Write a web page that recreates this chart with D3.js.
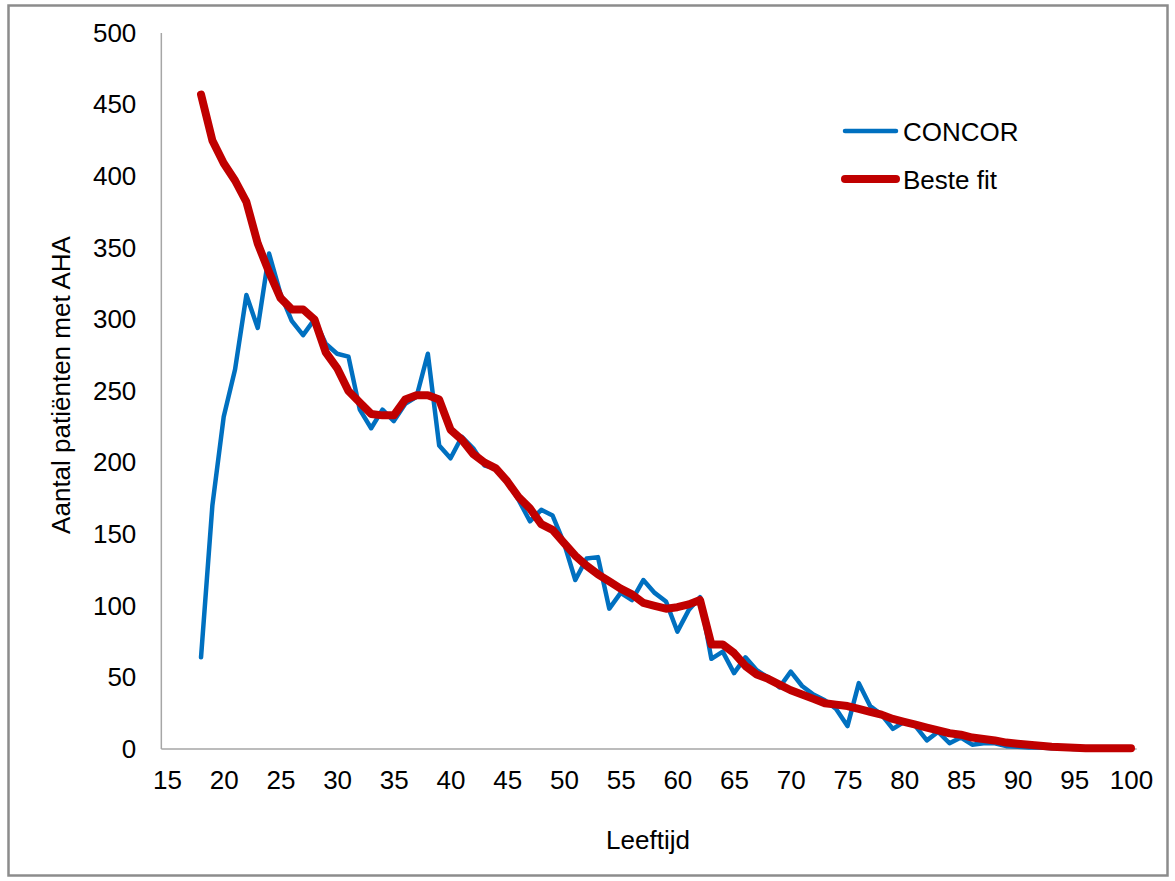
<!DOCTYPE html>
<html>
<head>
<meta charset="utf-8">
<script src="https://cdn.jsdelivr.net/npm/d3@7"></script>
<style>
  body { margin: 0; background: #fff; }
  svg { display: block; font-family: "Liberation Sans", Arial, sans-serif; }
</style>
</head>
<body>
<div id="chart"></div>
<script>
// leeftijd 18..100
var ages = d3.range(18, 101);

var concor = [64, 170, 232, 265, 317, 294, 346, 318, 299, 289,
              300, 283, 276, 274, 237, 224, 237, 229, 241, 246,
              276, 212, 203, 218, 210, 198, 196, 187, 174, 159,
              167, 163, 144, 118, 133, 134, 98, 109, 104, 118,
              109, 103, 82, 97, 106, 63, 68, 53, 64, 55,
              50, 43, 54, 44, 38, 34, 28, 16, 46, 30,
              24, 14, 19, 16, 6, 12, 4, 8, 3, 4,
              4, 2, 1.5, 1, 1, 0.5, 0.5, 0, 0, 0,
              0, 0, 0];

var besteFit = [457, 425, 409, 397, 382, 353, 333, 315, 307, 307,
                300, 277, 266, 250, 242, 234, 233, 233, 244, 247,
                247, 244, 223, 216, 206, 200, 196, 187, 176, 168,
                157, 153, 144, 135, 128, 122, 117, 112, 108, 102,
                100, 98, 99, 101, 104, 73, 73, 67, 58, 52,
                49, 45, 41, 38, 35, 32, 31, 30, 28, 26,
                24, 21, 19, 17, 15, 13, 11, 10, 8, 7,
                6, 4.5, 3.7, 3, 2.3, 1.6, 1.2, 0.8, 0.5, 0.5,
                0.5, 0.5, 0.5];

var xTicks = d3.range(15, 101, 5);
var yTicks = d3.range(0, 501, 50);

var series = [
  {name: "CONCOR", values: concor, color: "#0070c0", width: 4.5},
  {name: "Beste fit", values: besteFit, color: "#c00000", width: 8}
];

var W = 1175, H = 881;
var fs = "26px";

var x = d3.scaleLinear().domain([15, 100]).range([167, 1131]);
var y = d3.scaleLinear().domain([0, 500]).range([749, 33]);

var svg = d3.select("#chart").append("svg")
    .attr("width", W)
    .attr("height", H);

// kader
svg.append("rect")
  .attr("x", 8.5).attr("y", 5.5)
  .attr("width", 1159).attr("height", 870)
  .attr("fill", "#fff")
  .attr("stroke", "#8c8c8c")
  .attr("stroke-width", 2.5);

var xAxis = d3.axisBottom(x).tickValues(xTicks).tickSize(0).tickPadding(22);
var yAxis = d3.axisLeft(y).tickValues(yTicks).tickSize(0).tickPadding(25);

var gx = svg.append("g")
  .attr("transform", "translate(0," + y(0) + ")")
  .call(xAxis);
gx.select(".domain").remove();
gx.selectAll("text").style("font-size", fs).attr("fill", "#000");

var gy = svg.append("g")
  .attr("transform", "translate(" + x(14.5) + ",0)")
  .call(yAxis);
gy.select(".domain").remove();
gy.selectAll("text").style("font-size", fs).attr("fill", "#000");

// assen
svg.append("line")
  .attr("x1", x(14.5)).attr("x2", x(100.5))
  .attr("y1", y(0)).attr("y2", y(0))
  .attr("stroke", "#a6a6a6").attr("stroke-width", 1.5);
svg.append("line")
  .attr("x1", x(14.5)).attr("x2", x(14.5))
  .attr("y1", y(0)).attr("y2", y(500))
  .attr("stroke", "#a6a6a6").attr("stroke-width", 1.5);

var line = d3.line()
  .x(function(d) { return x(d[0]); })
  .y(function(d) { return y(d[1]); });

series.forEach(function(s) {
  svg.append("path")
    .datum(ages.map(function(a, i) { return [a, s.values[i]]; }))
    .attr("d", line)
    .attr("fill", "none")
    .attr("stroke", s.color)
    .attr("stroke-width", s.width)
    .attr("stroke-linejoin", "round")
    .attr("stroke-linecap", "round");
});

// titels
svg.append("text")
  .attr("x", 648).attr("y", 849)
  .attr("text-anchor", "middle")
  .style("font-size", fs)
  .text("Leeftijd");

svg.append("text")
  .attr("transform", "translate(70,385) rotate(-90)")
  .attr("text-anchor", "middle")
  .style("font-size", fs)
  .text("Aantal patiënten met AHA");

// legenda
var legend = svg.append("g");
series.forEach(function(s, i) {
  var ly = 131 + i * 48;
  legend.append("line")
    .attr("x1", 845).attr("x2", 896)
    .attr("y1", ly).attr("y2", ly)
    .attr("stroke", s.color)
    .attr("stroke-width", s.width)
    .attr("stroke-linecap", "round");
  legend.append("text")
    .attr("x", 903).attr("y", ly + 10)
    .style("font-size", fs)
    .text(s.name);
});
</script>
</body>
</html>
